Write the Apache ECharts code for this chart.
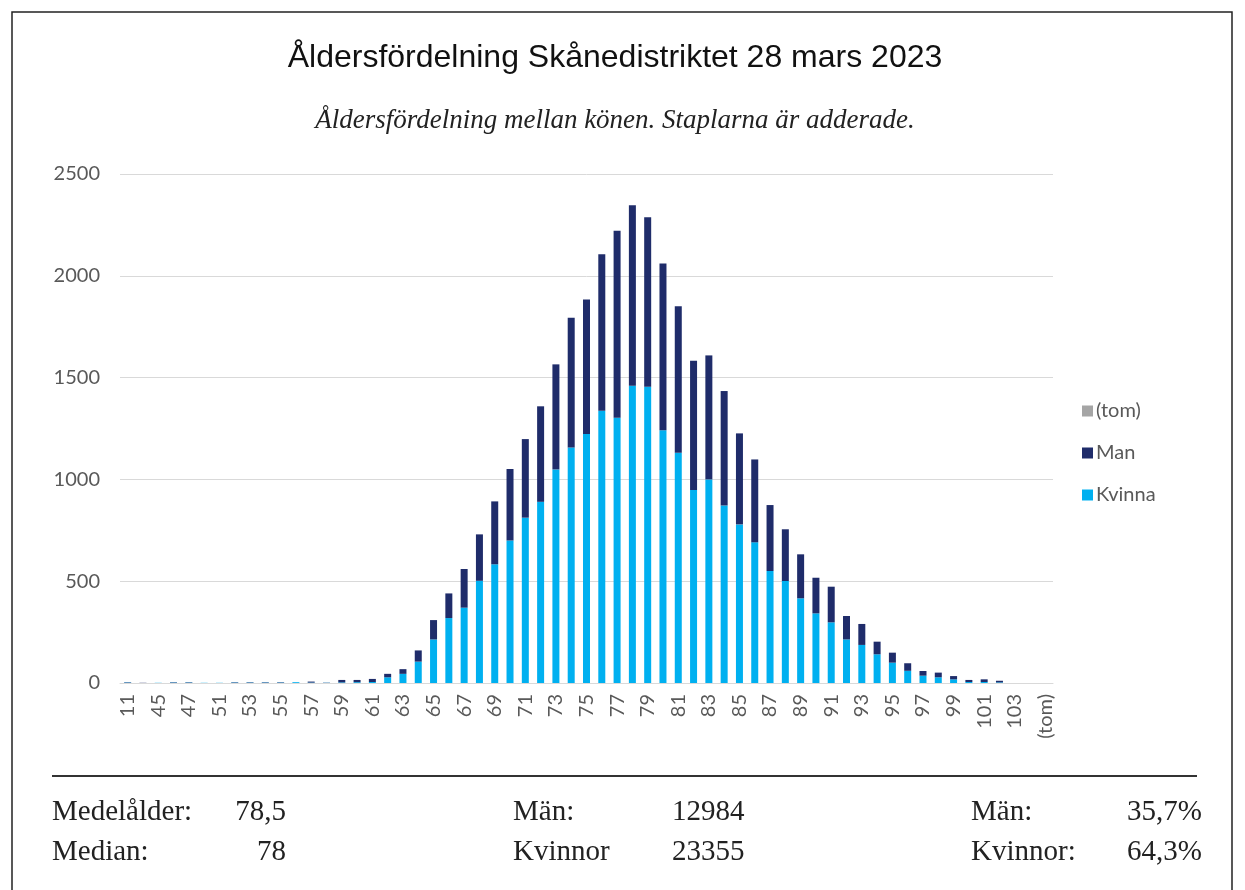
<!DOCTYPE html>
<html>
<head>
<meta charset="utf-8">
<script src="https://cdn.jsdelivr.net/npm/echarts@6/dist/echarts.min.js"></script>
<style>
html,body{margin:0;padding:0;background:#fff;}
#chart{width:1245px;height:890px;}
</style>
</head>
<body>
<div id="chart"></div>
<script>
const categories = ['11','44','45','46','47','50','51','52','53','54','55','56','57','58','59','60','61','62','63','64','65','66','67','68','69','70','71','72','73','74','75','76','77','78','79','80','81','82','83','84','85','86','87','88','89','90','91','92','93','94','95','96','97','98','99','100','101','102','103','104','(tom)'];
const kvinna = [2,0,1,2,2,1,1,2,2,2,2,4,2,1,3,4,5,28,45,105,214,319,370,502,583,700,812,890,1049,1157,1223,1337,1303,1460,1455,1242,1131,948,1000,872,779,691,550,501,416,342,298,214,187,141,100,60,36,28,18,5,5,3,0,0,0];
const man =    [2,1,0,2,2,0,0,2,2,2,2,0,5,1,12,11,15,17,23,55,95,121,190,228,309,351,386,469,516,637,661,769,918,887,833,819,720,635,609,562,447,407,324,254,216,175,175,115,103,62,49,37,23,23,16,10,13,8,0,0,0];
const tom = [];
const yTicks = [0, 500, 1000, 1500, 2000, 2500];
const legendNames = ['(tom)', 'Man', 'Kvinna'];
const titleText = 'Åldersfördelning Skånedistriktet 28 mars 2023';
const subtitleText = 'Åldersfördelning mellan könen. Staplarna är adderade.';
const stats = [
  ['Medelålder:', '78,5', 'Män:', '12984', 'Män:', '35,7%'],
  ['Median:', '78', 'Kvinnor', '23355', 'Kvinnor:', '64,3%']
];

const chart = echarts.init(document.getElementById('chart'), null, {renderer: 'canvas'});
const axisFont = 'Lato, "Open Sans", sans-serif';
const serif = '"Liberation Serif", "DejaVu Serif", serif';

const graphics = [
  {type: 'rect', shape: {x: 12, y: 12, width: 1220, height: 900}, style: {fill: 'none', stroke: '#222', lineWidth: 1.5}, silent: true},
  {type: 'line', shape: {x1: 52, y1: 776, x2: 1197, y2: 776}, style: {stroke: '#333', lineWidth: 2}, silent: true},
  {type: 'text', x: 615, y: 58, style: {text: titleText, font: '32px "Liberation Sans", Arial, sans-serif', fill: '#111', textAlign: 'center', textVerticalAlign: 'middle'}},
  {type: 'text', x: 615, y: 121, style: {text: subtitleText, font: 'italic 27px ' + serif, fill: '#222', textAlign: 'center', textVerticalAlign: 'middle'}}
];
const rowsY = [812, 852];
stats.forEach((row, i) => {
  const y = rowsY[i];
  const mk = (t, x, align) => ({type: 'text', x: x, y: y, style: {text: t, font: '29px ' + serif, fill: '#222', textAlign: align, textVerticalAlign: 'middle'}});
  graphics.push(mk(row[0], 52, 'left'));
  graphics.push(mk(row[1], 286, 'right'));
  graphics.push(mk(row[2], 513, 'left'));
  graphics.push(mk(row[3], 672, 'left'));
  graphics.push(mk(row[4], 971, 'left'));
  graphics.push(mk(row[5], 1202, 'right'));
});

chart.setOption({
  animation: false,
  backgroundColor: '#fff',
  grid: {left: 120, right: 192, top: 174, bottom: 890 - 683, containLabel: false},
  legend: {
    orient: 'vertical',
    left: 1077,
    top: 396,
    itemWidth: 11,
    itemHeight: 11,
    itemGap: 22,
    icon: 'rect',
    data: legendNames,
    textStyle: {fontFamily: axisFont, fontSize: 20, color: '#595959', padding: [0, 0, 0, -2]}
  },
  xAxis: {
    type: 'category',
    data: categories,
    axisLine: {lineStyle: {color: '#d9d9d9', width: 1}},
    axisTick: {show: false},
    axisLabel: {rotate: 90, interval: 1, margin: 11, fontFamily: axisFont, fontSize: 20, color: '#595959'}
  },
  yAxis: {
    type: 'value',
    min: yTicks[0],
    max: yTicks[yTicks.length - 1],
    interval: 500,
    axisLine: {show: false},
    axisTick: {show: false},
    splitLine: {lineStyle: {color: '#d9d9d9', width: 1}},
    axisLabel: {margin: 20, fontFamily: axisFont, fontSize: 20, color: '#595959', formatter: v => String(v)}
  },
  series: [
    {name: 'Kvinna', type: 'bar', stack: 'a', data: kvinna, barWidth: 7, itemStyle: {color: '#00b0f0'}},
    {name: 'Man', type: 'bar', stack: 'a', data: man, barWidth: 7, itemStyle: {color: '#1f2c6a'}},
    {name: '(tom)', type: 'bar', stack: 'a', data: tom, barWidth: 7, itemStyle: {color: '#a5a5a5'}}
  ],
  graphic: graphics
});
</script>
</body>
</html>
